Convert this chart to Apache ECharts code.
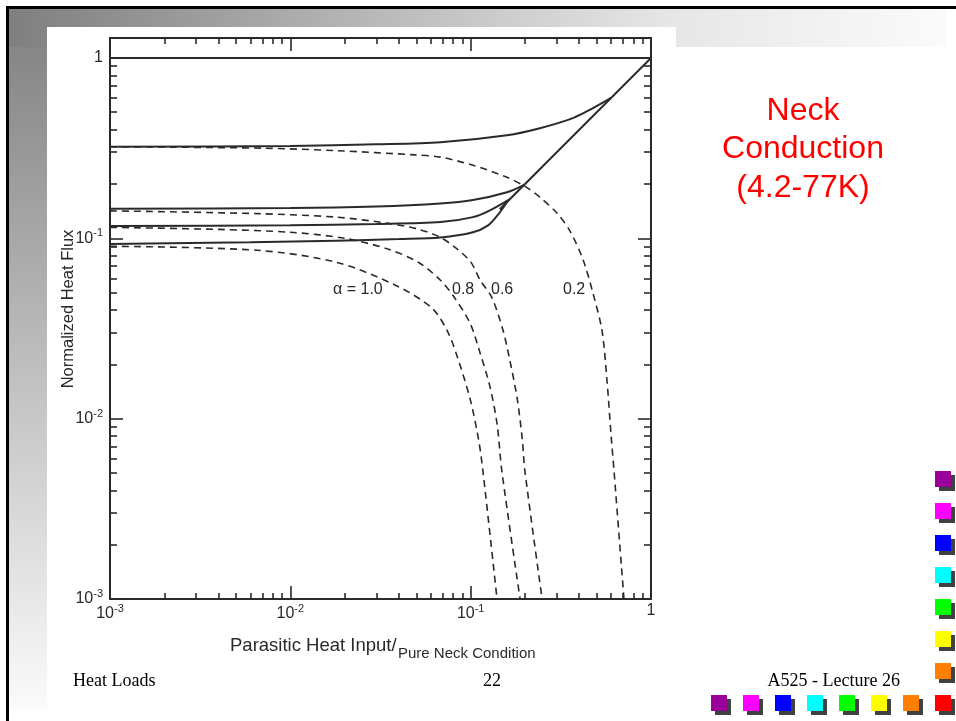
<!DOCTYPE html>
<html><head><meta charset="utf-8">
<script src="https://cdn.jsdelivr.net/npm/echarts@6/dist/echarts.min.js"></script>
<style>html,body{margin:0;padding:0;background:#fff}#c{width:956px;height:721px}</style>
</head><body><div id="c"></div>
<script>
// ---- axis ticks / labels ----
const decadeTicks = [0.001, 0.01, 0.1, 1];
const minorTickValues = [0.002,0.003,0.004,0.005,0.006,0.007,0.008,0.009,
                         0.02,0.03,0.04,0.05,0.06,0.07,0.08,0.09,
                         0.2,0.3,0.4,0.5,0.6,0.7,0.8,0.9];
const xTitleMain = 'Parasitic Heat Input/';
const xTitleSub = 'Pure Neck Condition';
const yTitle = 'Normalized Heat Flux';
const curveLabels = ['α = 1.0', '0.8', '0.6', '0.2'];

// ---- series values (x = parasitic heat input ratio, y = normalized heat flux) ----
const pureNeckLine = [[0.001, 1], [1, 1]];
const envelopeLine = [[0.145, 0.145], [1, 1]];
const solidA02 = [[0.001,0.322],[0.01,0.325],[0.03,0.332],[0.068,0.341],[0.159,0.373],[0.242,0.408],[0.369,0.464],[0.477,0.527],[0.6,0.6]];
const solidA06 = [[0.001,0.146],[0.01,0.147],[0.03,0.15],[0.068,0.156],[0.103,0.163],[0.159,0.18],[0.198,0.198]];
const solidA08 = [[0.001,0.117],[0.01,0.118],[0.03,0.12],[0.068,0.123],[0.103,0.131],[0.128,0.143],[0.165,0.165]];
const solidA10 = [[0.001,0.093],[0.006,0.095],[0.018,0.097],[0.04,0.099],[0.068,0.101],[0.103,0.108],[0.125,0.118],[0.14,0.133],[0.16,0.16]];
const dashA02 = [[0.001,0.322],[0.007,0.316],[0.018,0.306],[0.049,0.29],[0.068,0.282],[0.103,0.254],[0.159,0.218],[0.2,0.194],[0.242,0.169],[0.301,0.138],[0.355,0.11],[0.42,0.076],[0.477,0.0495],[0.535,0.0308],[0.57,0.0163],[0.6,0.0082],[0.624,0.0051],[0.708,0.001]];
const dashA06 = [[0.001,0.142],[0.0066,0.137],[0.018,0.131],[0.035,0.121],[0.05,0.113],[0.067,0.102],[0.082,0.089],[0.1,0.074],[0.113,0.0585],[0.131,0.047],[0.151,0.031],[0.165,0.021],[0.181,0.013],[0.193,0.0078],[0.2,0.0051],[0.249,0.001]];
const dashA08 = [[0.001,0.115],[0.004,0.112],[0.01,0.108],[0.02,0.1],[0.035,0.087],[0.052,0.073],[0.068,0.0585],[0.08,0.048],[0.099,0.034],[0.113,0.023],[0.128,0.015],[0.14,0.0094],[0.149,0.0051],[0.188,0.001]];
const dashA10 = [[0.001,0.0904],[0.0066,0.0858],[0.018,0.0736],[0.0385,0.0548],[0.061,0.041],[0.075,0.03],[0.087,0.02],[0.1,0.0125],[0.111,0.0075],[0.117,0.0051],[0.14,0.001]];

// ---- slide texts ----
const sideTitle = ['Neck', 'Conduction', '(4.2-77K)'];
const footerLeft = 'Heat Loads';
const footerMid = '22';
const footerRight = 'A525 - Lecture 26';
const columnColors = ['#990099','#FF00FF','#0000FF','#00FFFF','#00FF00','#FFFF00','#FF8000'];
const rowColors = ['#990099','#FF00FF','#0000FF','#00FFFF','#00FF00','#FFFF00','#FF8000','#FF0000'];

const ink = '#2a2a2a';
const font = 'Liberation Sans';

function supLabel(v) {
  const e = Math.round(Math.log10(v));
  return e === 0 ? '{b|1}' : '{b|10}{s|' + e + '}';
}
const richLab = {
  b: { fontSize: 16, fontFamily: font, color: ink },
  s: { fontSize: 11, fontFamily: font, color: ink, padding: [0, 0, 10, 0] }
};

function logAxis(dim, position, values, len, withLabel, showLine) {
  return {
    type: 'log', logBase: 10, position, gridIndex: 0,
    min: 0.001, max: dim === 'x' ? 1 : 1.29,
    axisLine: { show: showLine, onZero: false, lineStyle: { color: ink, width: 2 } },
    axisTick: { show: true, inside: true, length: len, customValues: values, lineStyle: { color: ink, width: 1.6 } },
    axisLabel: { show: withLabel, customValues: values, margin: dim === 'x' ? 4 : 7, formatter: supLabel, rich: richLab },
    splitLine: { show: false }, minorTick: { show: false }, minorSplitLine: { show: false },
    silent: true
  };
}

function lineSeries(data, dashed, smooth) {
  return {
    type: 'line', xAxisIndex: 0, yAxisIndex: 0, data, showSymbol: false, symbol: 'none',
    smooth: smooth, silent: true, animation: false,
    lineStyle: { color: ink, width: dashed ? 1.6 : 2, type: dashed ? [7, 5] : 'solid' },
    emphasis: { disabled: true }, z: 3
  };
}

const graphics = [];
let z2 = 0;
function rect(x, y, w, h, fill) {
  graphics.push({ type: 'rect', silent: true, z: -10, z2: z2++, shape: { x, y, width: w, height: h }, style: { fill } });
}
function text(x, y, t, fontStr, fill, align, vAlign, extra) {
  graphics.push(Object.assign({ type: 'text', silent: true, x, y, z: 10, z2: z2++,
    style: { text: t, font: fontStr, fill, align: align, verticalAlign: vAlign } }, extra || {}));
}

// slide frame & gradients
rect(6, 6, 950, 3, '#000');
rect(6, 6, 3, 715, '#000');
rect(9, 9, 38, 700, { type: 'linear', x: 0, y: 0, x2: 0, y2: 1, colorStops: [{ offset: 0, color: '#7f7f7f' }, { offset: 1, color: '#fbfbfb' }] });
rect(9, 9, 938, 38, { type: 'linear', x: 0, y: 0, x2: 1, y2: 0, colorStops: [{ offset: 0, color: '#7f7f7f' }, { offset: 0.7, color: '#e6e6e6' }, { offset: 1, color: '#fbfbfb' }] });
rect(47, 27, 629, 680, '#ffffff');

// axis titles and curve labels
text(68, 309, yTitle, '16.5px "Liberation Sans"', ink, 'center', 'middle', { rotation: Math.PI / 2 });
text(230, 646, xTitleMain, '18.5px "Liberation Sans"', ink, 'left', 'middle');
text(398, 654, xTitleSub, '15px "Liberation Sans"', ink, 'left', 'middle');
const labelX = [333, 452, 491, 563];
curveLabels.forEach((t, i) => text(labelX[i], 290, t, '16px "Liberation Sans"', ink, 'left', 'middle'));

// red side title
sideTitle.forEach((t, i) => text(803, 111 + i * 38.5, t, '32px "Liberation Sans"', '#FF0000', 'center', 'middle'));

// footer
text(73, 681, footerLeft, '18px "Liberation Serif"', '#000', 'left', 'middle');
text(492, 681, footerMid, '18px "Liberation Serif"', '#000', 'center', 'middle');
text(900, 681, footerRight, '18px "Liberation Serif"', '#000', 'right', 'middle');

// colored squares with shadows
function square(x, y, c) {
  graphics.push({ type: 'rect', silent: true, z: 10, z2: z2++, shape: { x: x + 4, y: y + 4, width: 16, height: 16 }, style: { fill: '#404040' } });
  graphics.push({ type: 'rect', silent: true, z: 10, z2: z2++, shape: { x, y, width: 16, height: 16 }, style: { fill: c } });
}
columnColors.forEach((c, i) => square(935, 471 + i * 32, c));
rowColors.forEach((c, i) => square(711 + i * 32, 695, c));

const chart = echarts.init(document.getElementById('c'), null, { renderer: 'canvas', width: 956, height: 721 });
chart.setOption({
  animation: false,
  backgroundColor: '#ffffff',
  grid: { left: 110, top: 38, width: 541, height: 561, containLabel: false, outerBoundsMode: 'none' },
  xAxis: [
    logAxis('x', 'bottom', decadeTicks, 13, true, true),
    logAxis('x', 'bottom', minorTickValues, 6, false, false),
    logAxis('x', 'top', decadeTicks, 13, false, true),
    logAxis('x', 'top', minorTickValues, 6, false, false)
  ],
  yAxis: [
    logAxis('y', 'left', decadeTicks, 13, true, true),
    logAxis('y', 'left', minorTickValues, 7, false, false),
    logAxis('y', 'right', decadeTicks, 13, false, true),
    logAxis('y', 'right', minorTickValues, 7, false, false)
  ],
  series: [
    lineSeries(pureNeckLine, false, false),
    lineSeries(envelopeLine, false, false),
    lineSeries(solidA02, false, 0.3),
    lineSeries(solidA06, false, 0.3),
    lineSeries(solidA08, false, 0.3),
    lineSeries(solidA10, false, 0.3),
    lineSeries(dashA02, true, 0.3),
    lineSeries(dashA06, true, 0.3),
    lineSeries(dashA08, true, 0.3),
    lineSeries(dashA10, true, 0.3)
  ],
  graphic: { elements: graphics }
});
</script>
</body></html>
